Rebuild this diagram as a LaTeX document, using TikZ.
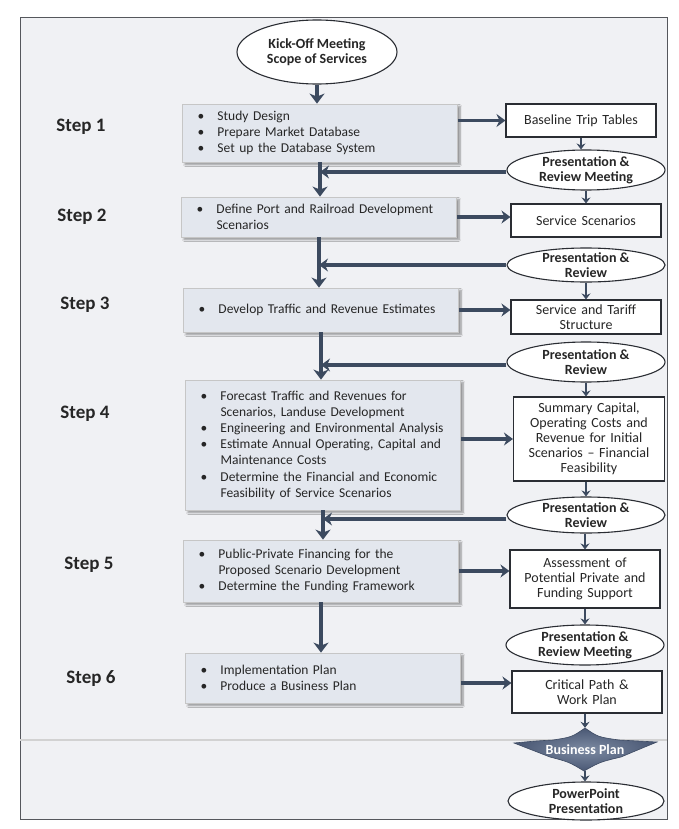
\documentclass[tikz,border=0pt]{standalone}
\usepackage{fontspec}
\setmainfont{Carlito}
\usetikzlibrary{arrows.meta,shapes.geometric,shadows.blur}

\definecolor{arrowc}{HTML}{3C4A5F}
\definecolor{stepfill}{HTML}{E3E7EE}
\definecolor{pagebg}{HTML}{F0F1F4}
\definecolor{edgec}{HTML}{2A2D33}
\definecolor{starlight}{HTML}{7C8AA2}
\definecolor{stardark}{HTML}{4A5874}
\definecolor{staredge}{HTML}{3E4B63}

% bullet column and hanging indent for the task lists
\newcommand{\bul}{\makebox[20pt][l]{\textbullet}}
\newcommand{\cont}{\hspace*{20pt}}

\begin{document}
\begin{tikzpicture}[x=1pt,y=-1pt,
  steplabel/.style={font=\fontsize{19}{21}\selectfont\bfseries, text=black!85},
  stepbox/.style={draw=gray!45, fill=stepfill, line width=0.8pt,
    minimum width=275pt, minimum height=#1, text width=245pt, inner xsep=15pt,
    align=left, font=\fontsize{13.5}{16.2}\selectfont, text=black!85,
    blur shadow={shadow xshift=2.5pt, shadow yshift=-2.5pt, shadow blur steps=6}},
  outbox/.style={draw=edgec, fill=white, line width=1.1pt,
    minimum width=150pt, minimum height=#1, text width=144pt, inner xsep=3pt,
    inner ysep=2pt, align=center, font=\fontsize{14}{15}\selectfont, text=black!85},
  meetell/.style={ellipse, draw=edgec, fill=white, line width=1.1pt,
    minimum width=158pt, minimum height=#1, inner xsep=0pt, inner ysep=-6pt,
    align=center, font=\fontsize{14}{15}\selectfont\bfseries, text=black!85},
  spinearrow/.style={draw=arrowc, line width=4.5pt,
    -{Stealth[length=10pt,width=15pt,inset=3pt]}},
  sidearrow/.style={draw=arrowc, line width=3.5pt,
    -{Stealth[length=9pt,width=13pt,inset=3pt]}},
  linkarrow/.style={draw=arrowc, line width=2.2pt,
    -{Stealth[length=6pt,width=9pt,inset=2pt]}}
]
\useasboundingbox (0,0) rectangle (678,829);
\fill[white] (0,0) rectangle (678,829);
\fill[pagebg] (20,17) rectangle (667,819);
\draw[edgec!80, line width=0.9pt] (20,17) rectangle (667,819);

% separator band behind the closing items
\draw[gray!35, line width=2.5pt] (20,740) -- (667,740);

% start
\node[meetell=64pt, minimum width=160pt, inner ysep=0pt] (kick) at (317,52) {Kick-Off Meeting\\Scope of Services};

% step labels
\node[steplabel] (l1) at (81,127) {Step 1};
\node[steplabel] (l2) at (82,217) {Step 2};
\node[steplabel] (l3) at (85,305) {Step 3};
\node[steplabel] (l4) at (85,414) {Step 4};
\node[steplabel] (l5) at (89,565) {Step 5};
\node[steplabel] (l6) at (91,679) {Step 6};

% task boxes
\node[stepbox=58pt] (s1) at (320,133) {\bul Study Design\\\bul Prepare Market Database\\\bul Set up the Database System};
\node[stepbox=40pt] (s2) at (319,217) {\bul Define Port and Railroad Development\\\cont Scenarios};
\node[stepbox=44pt] (s3) at (321,310) {\bul Develop Traffic and Revenue Estimates};
\node[stepbox=130pt] (s4) at (323,445) {\bul Forecast Traffic and Revenues for\\\cont Scenarios, Landuse Development\\\bul Engineering and Environmental Analysis\\\bul Estimate Annual Operating, Capital and\\\cont Maintenance Costs\\\bul Determine the Financial and Economic\\\cont Feasibility of Service Scenarios};
\node[stepbox=62pt] (s5) at (321,571) {\bul Public-Private Financing for the\\\cont Proposed Scenario Development\\\bul Determine the Funding Framework};
\node[stepbox=50pt] (s6) at (323,678) {\bul Implementation Plan\\\bul Produce a Business Plan};

% deliverables
\node[outbox=33pt, minimum width=149pt] (r1) at (581,120.5) {Baseline Trip Tables};
\node[outbox=33pt] (r2) at (586,220.5) {Service Scenarios};
\node[outbox=34pt] (r3) at (586,317) {Service and Tariff\\Structure};
\node[outbox=84pt, minimum width=151pt] (r4) at (589,439) {Summary Capital,\\Operating Costs and\\Revenue for Initial\\Scenarios -- Financial\\Feasibility};
\node[outbox=58pt, minimum width=149pt] (r5) at (585,579) {Assessment of\\Potential Private and\\Funding Support};
\node[outbox=42pt, minimum width=149pt] (r6) at (587,692) {Critical Path \&\\Work Plan};

% reviews
\node[meetell=40pt] (p1) at (586,170) {Presentation \&\\Review Meeting};
\node[meetell=34pt] (p2) at (586,265) {Presentation \&\\Review};
\node[meetell=40pt] (p3) at (586,362) {Presentation \&\\Review};
\node[meetell=36pt] (p4) at (586,515) {Presentation \&\\Review};
\node[meetell=40pt] (p5) at (585,645) {Presentation \&\\Review Meeting};

% business plan star
\shade[inner color=starlight, outer color=stardark, draw=staredge, line width=0.6pt]
  (514,743) .. controls (535,741) .. (553,740) .. controls (572,737) .. (585,728)
  .. controls (598,737) .. (619,740) .. controls (638,741) .. (657,742)
  .. controls (640,749) .. (621,757) .. controls (600,762) .. (584,771)
  .. controls (569,762) .. (550,757) .. controls (532,750) .. cycle;
\node[font=\fontsize{14}{15}\selectfont\bfseries, text=white,
  minimum width=142pt, minimum height=43pt, inner sep=0pt] (bp) at (585,749.5) {Business Plan};

\node[meetell=38pt, minimum width=156pt] (ppt) at (586,801) {PowerPoint\\Presentation};

% main flow
\draw[spinearrow] (kick.south) -- (kick.south |- s1.north);
\draw[spinearrow] (s1.south) -- (s1.south |- s2.north);
\draw[spinearrow] (s2.south) -- (s2.south |- s3.north);
\draw[spinearrow] (s3.south) -- (s3.south |- s4.north);
\draw[spinearrow] (s4.south) -- (s4.south |- s5.north);
\draw[spinearrow] (s5.south) -- (s5.south |- s6.north);

% task boxes to deliverables
\draw[sidearrow] (r1.west -| s1.east) -- (r1.west);
\draw[sidearrow] (s2.east) -- (s2.east -| r2.west);
\draw[sidearrow] (s3.east) -- (s3.east -| r3.west);
\draw[sidearrow] ([yshift=6pt]s4.east) -- ([yshift=6pt]s4.east -| r4.west);
\draw[sidearrow] (s5.east) -- (s5.east -| r5.west);
\draw[sidearrow] ([yshift=-5pt]s6.east) -- ([yshift=-5pt]s6.east -| r6.west);

% reviews feeding back into the main flow
\draw[sidearrow] ([yshift=-2pt]p1.west) -- ([yshift=-2pt]p1.west -| s1.south);
\draw[sidearrow] (p2.west) -- (p2.west -| s2.south);
\draw[sidearrow] ([yshift=-3pt]p3.west) -- ([yshift=-3pt]p3.west -| s3.south);
\draw[sidearrow] ([yshift=-4pt]p4.west) -- ([yshift=-4pt]p4.west -| s4.south);

% deliverable column
\draw[linkarrow] (r1.south) -- (r1.south |- p1.north);
\draw[linkarrow] (p1.south) -- (p1.south |- r2.north);
\draw[linkarrow] (p2.south) -- (p2.south |- r3.north);
\draw[linkarrow] (p3.south) -- (p3.south |- r4.north);
\draw[linkarrow] (r4.south -| p4.north) -- (p4.north);
\draw[linkarrow] (p4.south -| r5.north) -- (r5.north);
\draw[linkarrow] (r5.south) -- (r5.south |- p5.north);
\draw[linkarrow] (r6.south -| bp.north) -- (bp.north);
\draw[linkarrow] (bp.south) -- (bp.south |- ppt.north);
\end{tikzpicture}
\end{document}
